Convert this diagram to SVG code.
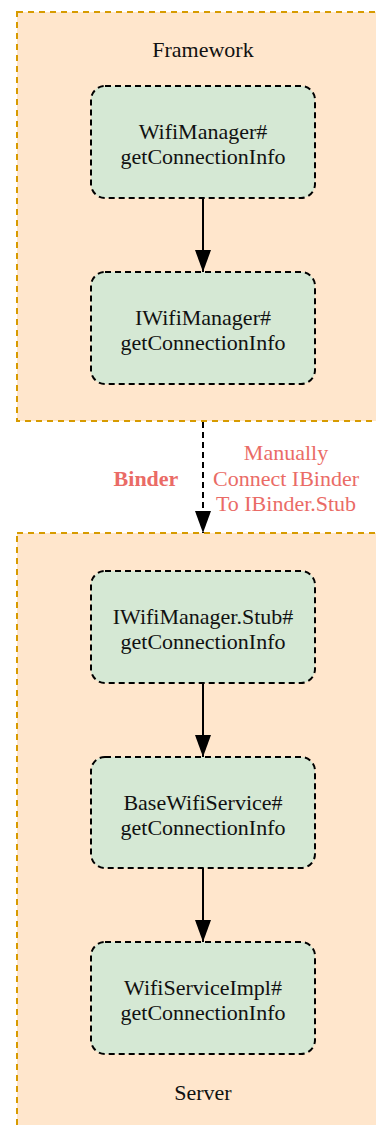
<svg xmlns="http://www.w3.org/2000/svg" width="376" height="1125" viewBox="0 0 376 1125">
  <style>
    .cluster { fill: #ffe6cc; stroke: #d79b00; stroke-width: 2; stroke-dasharray: 6 5; }
    .node rect { fill: #d5e8d4; stroke: #000; stroke-width: 2; stroke-dasharray: 6 4; }
    text { font-family: "Liberation Serif", "Times New Roman", serif; font-size: 22px; fill: #111; text-anchor: middle; }
    .edge { stroke: #000; stroke-width: 2; fill: none; }
    .dashed { stroke-dasharray: 6 4; }
    .label { fill: #ea6b66; }
    .bold { font-weight: bold; }
  </style>
  <defs>
    <marker id="arrow" markerUnits="userSpaceOnUse" markerWidth="22" markerHeight="16" refX="22" refY="8" orient="auto">
      <path d="M0,0 L22,8 L0,16 Z" fill="#000"/>
    </marker>
  </defs>
  <rect width="376" height="1125" fill="#fff"/>

  <!-- Clusters -->
  <g id="framework">
    <rect class="cluster" x="17" y="12" width="380" height="409"/>
    <text x="203" y="57">Framework</text>
  </g>
  <g id="server">
    <rect class="cluster" x="17" y="533" width="380" height="620"/>
    <text x="203" y="1100">Server</text>
  </g>

  <!-- Connectors -->
  <g id="edges">
    <line class="edge" x1="203" y1="198" x2="203" y2="272" marker-end="url(#arrow)"/>
    <line class="edge dashed" x1="203" y1="422" x2="203" y2="533" marker-end="url(#arrow)"/>
    <line class="edge" x1="203" y1="683" x2="203" y2="757" marker-end="url(#arrow)"/>
    <line class="edge" x1="203" y1="868" x2="203" y2="942" marker-end="url(#arrow)"/>
    <text class="label bold" x="146" y="486">Binder</text>
    <text class="label" x="286" y="460">Manually</text>
    <text class="label" x="286" y="486">Connect IBinder</text>
    <text class="label" x="286" y="511">To IBinder.Stub</text>
  </g>

  <!-- Nodes -->
  <g id="wifiManager" class="node">
    <rect x="91" y="86" width="224" height="112" rx="14"/>
    <text x="203" y="139">WifiManager#</text>
    <text x="203" y="164">getConnectionInfo</text>
  </g>
  <g id="iWifiManager" class="node">
    <rect x="91" y="272" width="224" height="112" rx="14"/>
    <text x="203" y="325">IWifiManager#</text>
    <text x="203" y="350">getConnectionInfo</text>
  </g>
  <g id="iWifiManagerStub" class="node">
    <rect x="91" y="571" width="224" height="112" rx="14"/>
    <text x="203" y="624">IWifiManager.Stub#</text>
    <text x="203" y="649">getConnectionInfo</text>
  </g>
  <g id="baseWifiService" class="node">
    <rect x="91" y="757" width="224" height="111" rx="14"/>
    <text x="203" y="810">BaseWifiService#</text>
    <text x="203" y="835">getConnectionInfo</text>
  </g>
  <g id="wifiServiceImpl" class="node">
    <rect x="91" y="942" width="224" height="112" rx="14"/>
    <text x="203" y="995">WifiServiceImpl#</text>
    <text x="203" y="1020">getConnectionInfo</text>
  </g>
</svg>
